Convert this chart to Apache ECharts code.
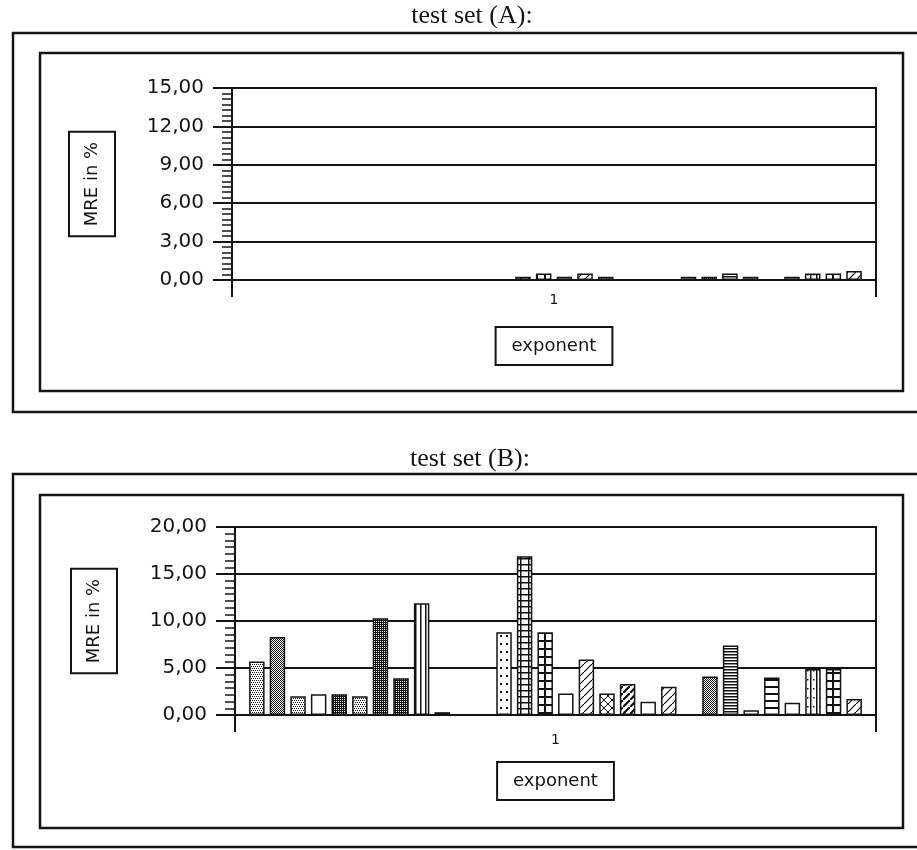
<!DOCTYPE html>
<html><head><meta charset="utf-8">
<script src="https://cdn.jsdelivr.net/npm/echarts@6/dist/echarts.min.js"></script>
<style>html,body{margin:0;padding:0;background:#fff}#c{width:917px;height:850px}</style>
</head><body><div id="c"></div>
<script>
// ---- data ----
const categories = ['1'];
const titleA = 'test set (A):';
const titleB = 'test set (B):';
const yNameText = 'MRE in %';
const xNameText = 'exponent';
const yTickLabelsA = ['0,00', '3,00', '6,00', '9,00', '12,00', '15,00'];
const yTickLabelsB = ['0,00', '5,00', '10,00', '15,00', '20,00'];
// one value per series (30 series in the single category "1")
const valuesA = [0, 0, 0, 0, 0, 0, 0, 0, 0, 0, 0, 0, 0, 0.25, 0.5, 0.25, 0.5, 0.25, 0, 0, 0, 0.25, 0.25, 0.5, 0.25, 0, 0.25, 0.5, 0.5, 0.7];
const valuesB = [5.7, 8.3, 2.0, 2.2, 2.2, 2.0, 10.3, 3.9, 11.9, 0.3, null, null, 8.8, 16.9, 8.8, 2.3, 5.9, 2.3, 3.3, 1.4, 3.0, null, 4.1, 7.4, 0.5, 4.0, 1.3, 4.9, 4.9, 1.7];
const patternNames = ['dotsLight', 'dotsMed', 'dotsLight', 'white', 'dotsDark', 'dotsLight', 'dotsDark', 'dotsDark', 'vstripe', 'dotsDark',
  'white', 'white', 'sparseDots', 'gridSmall', 'gridBig', 'white', 'diag', 'xdiag', 'diagDark', 'white',
  'diag', 'white', 'dotsMed', 'hdense', 'white', 'hladder', 'white', 'vdots', 'gridBig', 'diag'];

// ---- fill patterns ----
function makePattern(kind) {
  const c = document.createElement('canvas');
  const px = (ctx, pts) => pts.forEach(p => ctx.fillRect(p[0], p[1], 1, 1));
  const sizes = {white: [4, 4], dotsLight: [4, 4], dotsMed: [2, 2], dotsDark: [2, 2], vstripe: [5, 2], sparseDots: [6, 8],
    gridSmall: [8, 6], gridBig: [8, 8], hladder: [2, 7], hdense: [2, 3], diag: [8, 8], xdiag: [8, 8], diagDark: [7, 7], vdots: [6, 9]};
  const [w, h] = sizes[kind] || [4, 4];
  c.width = w; c.height = h;
  const ctx = c.getContext('2d');
  ctx.fillStyle = '#fff'; ctx.fillRect(0, 0, w, h);
  ctx.fillStyle = '#111'; ctx.strokeStyle = '#111';
  switch (kind) {
    case 'dotsLight': px(ctx, [[0, 0], [2, 0], [1, 2], [3, 2]]); break;
    case 'dotsMed': px(ctx, [[0, 0], [1, 1]]); break;
    case 'dotsDark': px(ctx, [[0, 0], [1, 1], [1, 0]]); break;
    case 'vstripe': ctx.fillRect(0, 0, 1.5, h); break;
    case 'sparseDots': ctx.fillRect(2, 3, 2, 2); break;
    case 'gridSmall': ctx.fillRect(0, 0, w, 1.5); ctx.fillRect(0, 0, 1.5, h); break;
    case 'gridBig': ctx.fillRect(0, 0, w, 2); ctx.fillRect(0, 0, 2, h); break;
    case 'hladder': ctx.fillRect(0, 0, w, 2); break;
    case 'hdense': ctx.fillRect(0, 0, w, 1.5); break;
    case 'diag': ctx.lineWidth = 1.2; ctx.beginPath(); ctx.moveTo(0, h); ctx.lineTo(w, 0); ctx.stroke(); break;
    case 'xdiag': ctx.lineWidth = 1; ctx.beginPath(); ctx.moveTo(0, h); ctx.lineTo(w, 0); ctx.moveTo(0, 0); ctx.lineTo(w, h); ctx.stroke(); break;
    case 'diagDark': ctx.lineWidth = 2.2; ctx.beginPath(); ctx.moveTo(0, h); ctx.lineTo(w, 0); ctx.stroke(); break;
    case 'vdots': ctx.fillRect(0, 0, 1.5, h); ctx.fillRect(3, 4, 1.5, 1.5); break;
    default: break;
  }
  return {image: c, repeat: 'repeat'};
}
const patternCache = {};
function patternFor(i) {
  const n = patternNames[i];
  if (!patternCache[n]) patternCache[n] = makePattern(n);
  return patternCache[n];
}

// ---- chart ----
const chart = echarts.init(document.getElementById('c'), null, {renderer: 'canvas'});
const FONT = 'DejaVu Sans';
const INK = '#141414';

function xAxisFor(gi, labelMargin) {
  return {
    type: 'category', gridIndex: gi, data: categories, boundaryGap: true,
    axisLine: {lineStyle: {color: INK, width: 2}},
    axisTick: {show: true, length: 17, lineStyle: {color: INK, width: 2}},
    axisLabel: {margin: labelMargin, fontSize: 14, color: INK, fontFamily: FONT},
    splitLine: {show: false},
    name: xNameText, nameLocation: 'middle', nameGap: 47,
    nameTextStyle: {fontSize: 18, lineHeight: 20, color: INK, fontFamily: FONT,
      borderColor: INK, borderWidth: 2, padding: [9, 16]}
  };
}
function yAxisFor(gi, max, interval, labels, gap) {
  return {
    type: 'value', gridIndex: gi, min: 0, max: max, interval: interval,
    axisLine: {show: true, lineStyle: {color: INK, width: 2}},
    axisTick: {show: true, length: 19, lineStyle: {color: INK, width: 2}},
    minorTick: {show: true, splitNumber: 7, length: 10, lineStyle: {color: INK, width: 1.5}},
    minorSplitLine: {show: false},
    splitLine: {show: true, lineStyle: {color: INK, width: 2}},
    axisLabel: {margin: 28, fontSize: 20, color: INK, fontFamily: FONT,
      formatter: v => labels[Math.round(v / interval)]},
    name: yNameText, nameLocation: 'middle', nameRotate: 90, nameGap: gap,
    nameTextStyle: {fontSize: 18, lineHeight: 20, color: INK, fontFamily: FONT,
      borderColor: INK, borderWidth: 2, padding: [13, 10]}
  };
}

const series = [];
[valuesA, valuesB].forEach((vals, gi) => {
  vals.forEach((v, i) => {
    series.push({
      type: 'bar', name: 's' + (i + 1), xAxisIndex: gi, yAxisIndex: gi,
      data: [v],
      barGap: '33%', barCategoryGap: '4.4%',
      itemStyle: {color: patternFor(i), borderColor: INK, borderWidth: 1.5},
      silent: true
    });
  });
});

const frameStyle = {fill: 'none', stroke: INK, lineWidth: 2.5};
chart.setOption({
  animation: false,
  backgroundColor: '#fff',
  textStyle: {fontFamily: FONT},
  title: [
    {text: titleA, left: 472, top: 3, padding: 0, textAlign: 'center',
      textStyle: {fontFamily: 'Liberation Serif', fontSize: 26, fontWeight: 'normal', color: INK}},
    {text: titleB, left: 470, top: 446, padding: 0, textAlign: 'center',
      textStyle: {fontFamily: 'Liberation Serif', fontSize: 26, fontWeight: 'normal', color: INK}}
  ],
  grid: [
    {left: 232, right: 41, top: 88, height: 192, show: true, borderColor: INK, borderWidth: 2, outerBoundsMode: 'none'},
    {left: 235, right: 41, top: 527, height: 188, show: true, borderColor: INK, borderWidth: 2, outerBoundsMode: 'none'}
  ],
  xAxis: [xAxisFor(0, 13), xAxisFor(1, 18)],
  yAxis: [yAxisFor(0, 15, 3, yTickLabelsA, 117), yAxisFor(1, 20, 5, yTickLabelsB, 118)],
  series: series,
  graphic: [
    {type: 'rect', silent: true, z: -10, shape: {x: 13, y: 33, width: 930, height: 379}, style: frameStyle},
    {type: 'rect', silent: true, z: -10, shape: {x: 40, y: 53, width: 863, height: 338}, style: frameStyle},
    {type: 'rect', silent: true, z: -10, shape: {x: 13, y: 474, width: 930, height: 373}, style: frameStyle},
    {type: 'rect', silent: true, z: -10, shape: {x: 40, y: 495, width: 863, height: 333}, style: frameStyle}
  ]
});
</script>
</body></html>
